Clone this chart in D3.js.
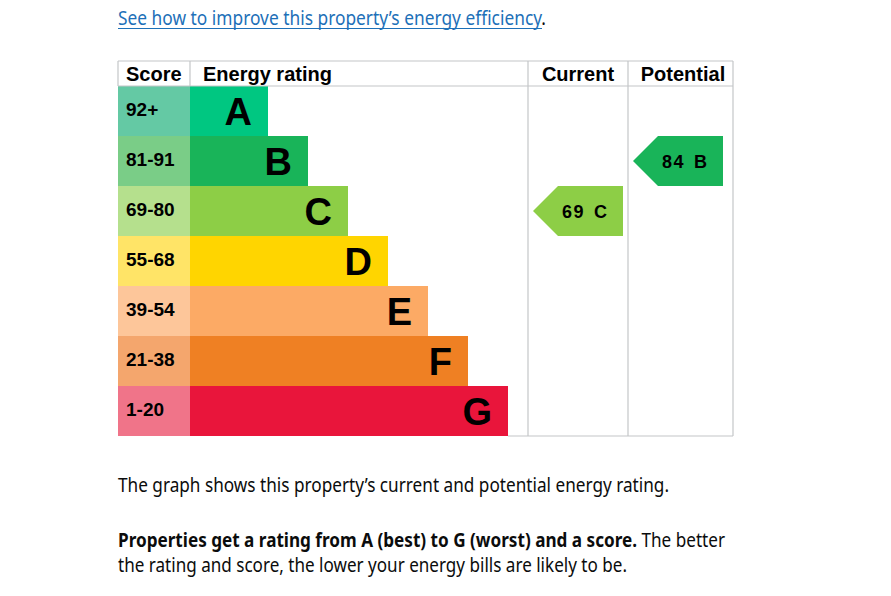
<!doctype html>
<html>
<head>
    <meta charset="utf-8">
    <title>Energy rating</title>
    <script src="https://cdn.jsdelivr.net/npm/d3@7"></script>
    <style>
        body { margin: 0; background: #fff; }
        svg { display: block; }
        .chart text { font-family: "Liberation Sans", Arial, sans-serif; font-weight: bold; fill: #000; }
        .copy text { font-family: "Noto Sans", sans-serif; font-size: 19px; fill: #0b0c0c; }
    </style>
</head>
<body>
    <svg id="epc" width="891" height="596"></svg>

    <script>
        // bands, top (best) to bottom (worst)
        var bands = ['A', 'B', 'C', 'D', 'E', 'F', 'G'];
        var scoreRanges = ['92+', '81-91', '69-80', '55-68', '39-54', '21-38', '1-20'];
        var bandMin = [92, 81, 69, 55, 39, 21, 1];
        var barColours = ['#00c781', '#19b459', '#8dce46', '#ffd500', '#fcaa65', '#ef8023', '#e9153b'];
        var scoreColours = ['#64c9a4', '#7acd87', '#b5e08d', '#ffe467', '#fdc69a', '#f4a66d', '#f07489'];
        var headers = ['Score', 'Energy rating', 'Current', 'Potential'];
        var ratings = [
            { column: 'Current', score: 69 },
            { column: 'Potential', score: 84 }
        ];

        var svg = d3.select('#epc');
        var chart = svg.append('g').attr('class', 'chart');

        var left = 118, scoreW = 72, barX = left + scoreW;
        var headTop = 61, headH = 25;
        var cols = { 'Current': [528, 628], 'Potential': [628, 733] };
        var right = 733;
        var grid = '#c4c6c8';

        var y = d3.scaleBand().domain(bands).range([headTop + headH, headTop + headH + 350]);
        var barW = d3.scaleLinear().domain([0, 6]).range([78, 318]);
        var bottom = y.range()[1];

        function bandOf(score) {
            return bands[bandMin.findIndex(function (m) { return score >= m; })];
        }

        // score cells
        chart.selectAll('.score').data(bands).enter().append('rect')
            .attr('x', left).attr('y', function (d) { return y(d); })
            .attr('width', scoreW).attr('height', y.bandwidth())
            .attr('fill', function (d, i) { return scoreColours[i]; });

        chart.selectAll('.score-label').data(scoreRanges).enter().append('text')
            .attr('x', left + 8).attr('y', function (d, i) { return y(bands[i]) + 30; })
            .attr('font-size', 19)
            .text(function (d) { return d; });

        // bars
        chart.selectAll('.bar').data(bands).enter().append('rect')
            .attr('x', barX).attr('y', function (d) { return y(d); })
            .attr('width', function (d, i) { return barW(i); }).attr('height', y.bandwidth())
            .attr('fill', function (d, i) { return barColours[i]; });

        chart.selectAll('.letter').data(bands).enter().append('text')
            .attr('x', function (d, i) { return barX + barW(i) - 16; })
            .attr('y', function (d) { return y(d) + 39; })
            .attr('text-anchor', 'end').attr('font-size', 38)
            .text(function (d) { return d; });

        // grid lines
        var lines = [
            [left, headTop, right, headTop],
            [left, headTop + headH, right, headTop + headH],
            [left, headTop, left, headTop + headH],
            [barX, headTop, barX, headTop + headH],
            [528, headTop, 528, bottom],
            [628, headTop, 628, bottom],
            [right, headTop, right, bottom],
            [barX + barW(6), bottom, right, bottom]
        ];
        chart.selectAll('.grid').data(lines).enter().append('line')
            .attr('x1', function (d) { return d[0]; }).attr('y1', function (d) { return d[1]; })
            .attr('x2', function (d) { return d[2]; }).attr('y2', function (d) { return d[3]; })
            .attr('stroke', grid).attr('stroke-width', 1.2);

        // headers
        var headX = [left + 8, barX + 13, 578, 683];
        var headAnchor = ['start', 'start', 'middle', 'middle'];
        chart.selectAll('.head').data(headers).enter().append('text')
            .attr('x', function (d, i) { return headX[i]; }).attr('y', headTop + 20)
            .attr('text-anchor', function (d, i) { return headAnchor[i]; })
            .attr('font-size', 20)
            .text(function (d) { return d; });

        // current / potential arrows
        var pad = { 'Current': [5, 5], 'Potential': [5, 10] };
        var arrows = chart.selectAll('.arrow').data(ratings).enter().append('g');
        arrows.append('path')
            .attr('d', function (d) {
                var b = bandOf(d.score);
                var x0 = cols[d.column][0] + pad[d.column][0], x1 = cols[d.column][1] - pad[d.column][1];
                var t = y(b), h = y.bandwidth(), m = t + h / 2;
                return 'M' + x0 + ',' + m + 'L' + (x0 + h / 2) + ',' + t + 'L' + x1 + ',' + t +
                    'L' + x1 + ',' + (t + h) + 'L' + (x0 + h / 2) + ',' + (t + h) + 'Z';
            })
            .attr('fill', function (d) { return barColours[bands.indexOf(bandOf(d.score))]; });
        var labels = arrows.append('text')
            .attr('x', function (d) { return cols[d.column][0] + 34; })
            .attr('y', function (d) { return y(bandOf(d.score)) + 32; })
            .attr('font-size', 18).attr('letter-spacing', 1.5);
        labels.append('tspan').text(function (d) { return d.score; });
        labels.append('tspan').attr('dx', 9).attr('font-size', 18)
            .text(function (d) { return bandOf(d.score); });

        // surrounding copy
        var copy = svg.append('g').attr('class', 'copy');
        var link = copy.append('text').attr('x', 118).attr('y', 25)
            .attr('textLength', 428).attr('lengthAdjust', 'spacingAndGlyphs');
        link.append('tspan').style('fill', '#1d70b8')
            .text('See how to improve this property\u2019s energy efficiency');
        link.append('tspan').text('.');
        copy.append('line').attr('x1', 118).attr('x2', 542).attr('y1', 28.5).attr('y2', 28.5)
            .attr('stroke', '#1d70b8').attr('stroke-width', 1);

        copy.append('text').attr('x', 118).attr('y', 492)
            .attr('textLength', 551).attr('lengthAdjust', 'spacingAndGlyphs')
            .text('The graph shows this property\u2019s current and potential energy rating.');
        var strong = copy.append('text').attr('x', 118).attr('y', 547)
            .attr('textLength', 607).attr('lengthAdjust', 'spacingAndGlyphs');
        strong.append('tspan').attr('font-weight', 'bold')
            .text('Properties get a rating from A (best) to G (worst) and a score.');
        strong.append('tspan').text(' The better');
        copy.append('text').attr('x', 118).attr('y', 572)
            .attr('textLength', 509).attr('lengthAdjust', 'spacingAndGlyphs')
            .text('the rating and score, the lower your energy bills are likely to be.');
    </script>
</body>
</html>
